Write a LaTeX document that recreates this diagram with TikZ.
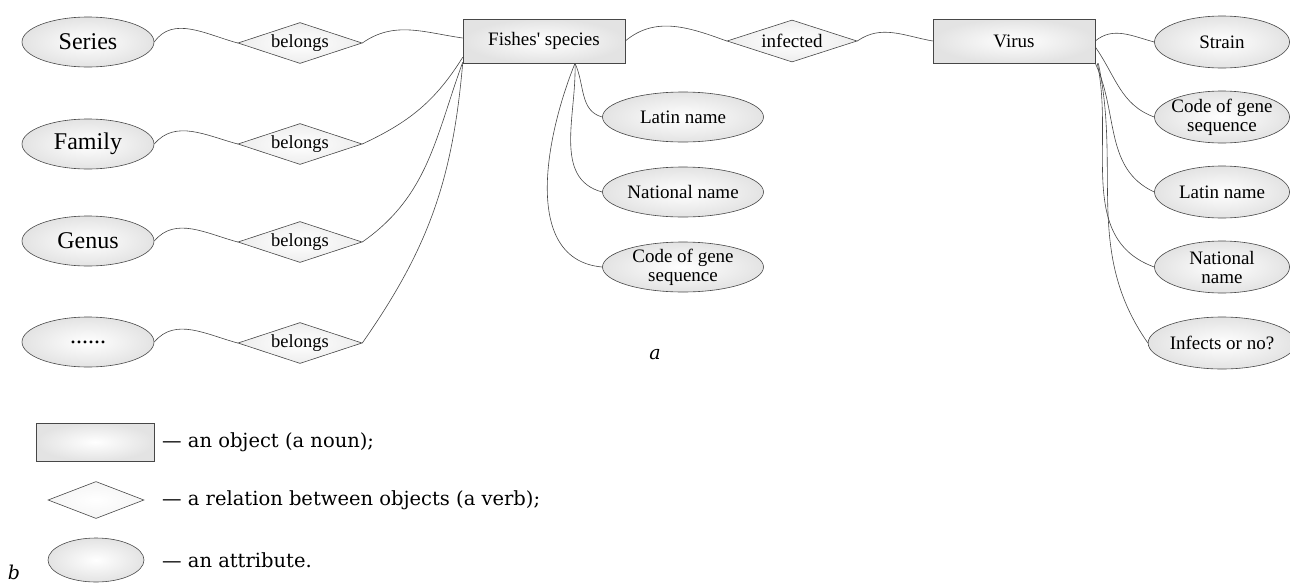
\documentclass[tikz,border=0pt]{standalone}
\usepackage{fontspec}
\newfontfamily\tnr{Liberation Serif}
\newfontfamily\legfont{DejaVu Serif}
\usetikzlibrary{shapes.geometric}
\tikzset{
  base/.style={draw=black!72, line width=0.6pt, inner sep=0pt, align=center,
    inner color=white, outer color=gray!22, font=\tnr\fontsize{19}{19}\selectfont},
  ent/.style={base, rectangle, minimum width=162pt, minimum height=44pt},
  rel/.style={base, diamond, aspect=3, minimum width=124pt, minimum height=41pt,
    inner color=white, outer color=gray!14, font=\tnr\fontsize{18.5}{19}\selectfont},
  attr/.style={base, ellipse, minimum width=161pt, minimum height=50pt},
  rattr/.style={attr, minimum width=135pt, minimum height=52pt},
  lattr/.style={attr, minimum width=132pt, minimum height=50pt, font=\tnr\fontsize{24}{24}\selectfont},
  two/.style={inner sep=-6pt},
  conn/.style={draw=black!72, line width=0.6pt},
  legtext/.style={anchor=west, inner sep=0pt, font=\legfont\fontsize{19.5}{21}\selectfont},
  tag/.style={inner sep=0pt, font=\legfont\itshape\fontsize{19}{20}\selectfont}
}
\begin{document}
\begin{tikzpicture}[x=1pt,y=1pt]
\useasboundingbox (0,0) rectangle (1290,-584);
% left column
\node[lattr] (s1) at (88,-42) {Series};
\node[lattr] (s2) at (88,-144) {Family};
\node[lattr] (s3) at (88,-241) {Genus};
\node[lattr] (s4) at (88,-342) {......};
\node[rel] (d1) at (300,-43) {belongs};
\node[rel] (d2) at (300,-144) {belongs};
\node[rel] (d3) at (300,-242) {belongs};
\node[rel] (d4) at (300,-343) {belongs};
% entities
\node[ent] (fish) at (544,-41) {Fishes' species};
\node[rel, minimum width=130pt, minimum height=42pt, font=\tnr\fontsize{19}{19}\selectfont] (inf) at (792,-41) {infected};
\node[ent] (virus) at (1014,-41) {Virus};
% fish attributes
\node[attr] (fl) at (683,-117) {Latin name};
\node[attr] (fn) at (683,-192) {National name};
\node[attr, two] (fc) at (683,-267) {Code of gene\\sequence};
% virus attributes
\node[rattr] (vs) at (1222,-42) {Strain};
\node[rattr, two] (vc) at (1222,-117) {Code of gene\\sequence};
\node[rattr] (vl) at (1222,-192) {Latin name};
\node[rattr, two] (vn) at (1222,-267) {National\\name};
\node[rattr] (vi) at (1222,-343) {Infects or no?};
% connectors left
\draw[conn] (s1.east) to[out=55,in=165] (d1.west);
\draw[conn] (s2.east) to[out=50,in=165] (d2.west);
\draw[conn] (s3.east) to[out=50,in=165] (d3.west);
\draw[conn] (s4.east) to[out=50,in=165] (d4.west);
\draw[conn] (d1.east) to[out=35,in=172] ([yshift=3pt]fish.west);
\draw[conn] (d2.east) to[out=25,in=238] ([yshift=6pt]fish.south west);
\draw[conn] (d3.east) to[out=35,in=250] ([yshift=1pt]fish.south west);
\draw[conn] (d4.east) to[out=55,in=265] (fish.south west);
% fish relations
\draw[conn] (fish.east) to[out=40,in=160] (inf.west);
\draw[conn] (inf.east) to[out=35,in=170] (virus.west);
\draw[conn] ([xshift=31pt]fish.south) to[out=-65,in=165] (fl.west);
\draw[conn] ([xshift=31pt]fish.south) to[out=-88,in=165] (fn.west);
\draw[conn] ([xshift=31pt]fish.south) to[out=-112,in=175] (fc.west);
% virus attributes
\draw[conn] (virus.east) to[out=40,in=165] (vs.west);
\draw[conn] ([yshift=-6pt]virus.east) to[out=-55,in=160] (vc.west);
\draw[conn] (virus.south east) to[out=-65,in=155] (vl.west);
\draw[conn] ([xshift=2pt]virus.south east) to[out=-78,in=160] (vn.west);
\draw[conn] ([xshift=3pt]virus.south east) to[out=-78,in=125] (vi.west);
% label a
\node[tag] (la) at (655,-355) {a};
% legend
\node[ent, minimum width=118pt, minimum height=38pt] (lr) at (95,-442) {};
\node[rel, minimum width=96pt, minimum height=37pt, outer color=gray!8] (ld) at (96,-500) {};
\node[attr, minimum width=96pt, minimum height=44pt] (le) at (96,-560) {};
\node[legtext] (t1) at (162,-442) {— an object (a noun);};
\node[legtext] (t2) at (162,-500) {— a relation between objects (a verb);};
\node[legtext] (t3) at (162,-560) {— an attribute.};
\node[tag] (lb) at (14,-572) {b};
\end{tikzpicture}
\end{document}
